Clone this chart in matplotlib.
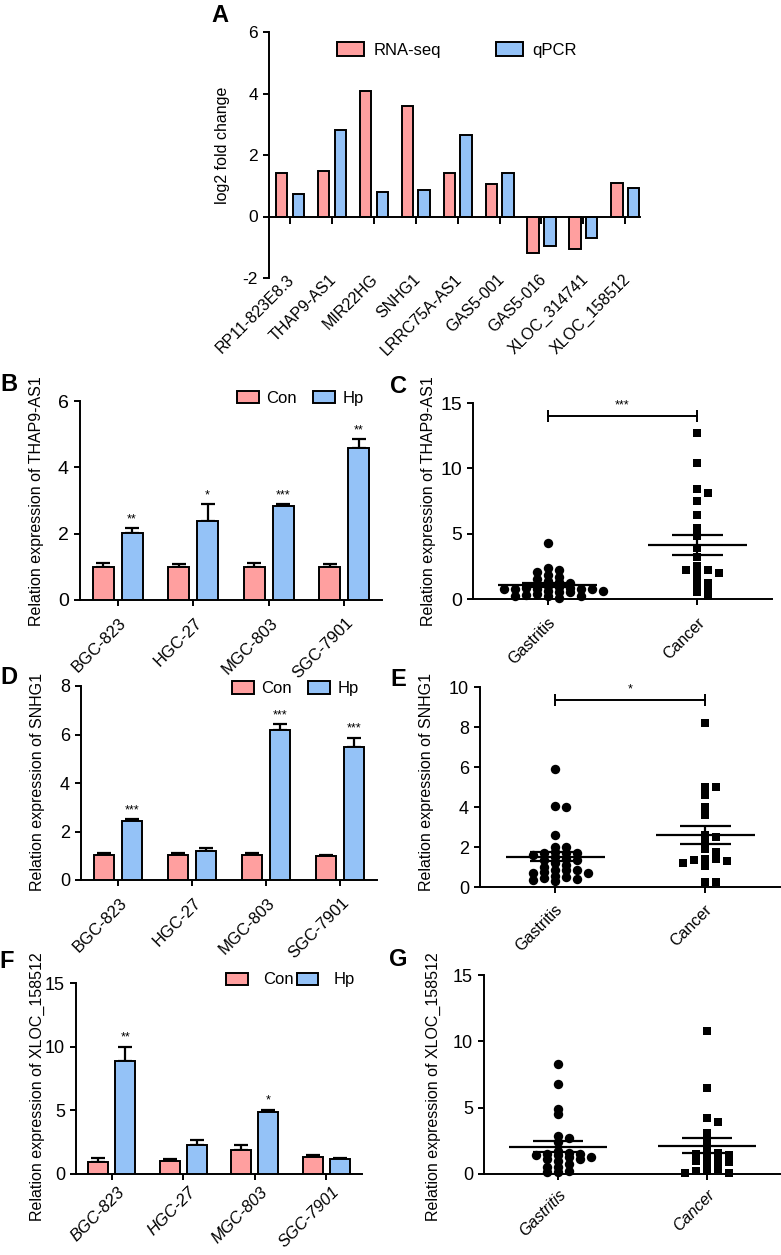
import numpy as np
import matplotlib.pyplot as plt
from matplotlib.transforms import ScaledTranslation

plt.rcParams['font.family'] = ['Liberation Sans', 'DejaVu Sans']
plt.rcParams['axes.unicode_minus'] = False

# ---- data ----
genes = ['RP11-823E8.3', 'THAP9-AS1', 'MIR22HG', 'SNHG1', 'LRRC75A-AS1',
         'GAS5-001', 'GAS5-016', 'XLOC_314741', 'XLOC_158512']
rnaseq = [1.40, 1.48, 4.07, 3.58, 1.43, 1.05, -1.19, -1.06, 1.10]
qpcr = [0.73, 2.80, 0.79, 0.86, 2.66, 1.40, -0.95, -0.69, 0.93]

cells = ['BGC-823', 'HGC-27', 'MGC-803', 'SGC-7901']
groups = ['Gastritis', 'Cancer']

b_con = [1.00, 1.00, 1.00, 0.98]
b_con_err = [0.11, 0.10, 0.11, 0.10]
b_hp = [2.03, 2.39, 2.82, 4.58]
b_hp_err = [0.13, 0.49, 0.07, 0.26]
b_sig = ['**', '*', '***', '**']

d_con = [1.02, 1.03, 1.03, 0.99]
d_con_err = [0.08, 0.09, 0.09, 0.06]
d_hp = [2.42, 1.18, 6.20, 5.47]
d_hp_err = [0.08, 0.16, 0.23, 0.40]
d_sig = ['***', '', '***', '***']

f_con = [0.92, 1.00, 1.92, 1.37]
f_con_err = [0.34, 0.18, 0.32, 0.16]
f_hp = [8.90, 2.24, 4.87, 1.18]
f_hp_err = [1.10, 0.44, 0.18, 0.08]
f_sig = ['**', '', '*', '']

c_gas = [4.3, 2.4, 2.2, 2.1, 1.8, 1.65, 1.5, 1.4, 1.3, 1.25, 1.1, 1.0, 0.9, 0.87, 0.87,
         0.8, 0.8, 0.75, 0.75, 0.75, 0.6, 0.6, 0.5, 0.5, 0.4, 0.3, 0.25, 0.25, 0.2, 0.1]
c_can = [12.7, 10.4, 8.4, 8.1, 7.5, 6.4, 5.4, 4.85, 3.9, 3.2, 2.5, 2.2, 2.2, 2.1, 2.0,
         1.55, 1.25, 1.1, 0.85, 0.5, 0.25]

e_gas = [5.9, 4.05, 4.0, 2.6, 2.0, 2.0, 1.75, 1.7, 1.7, 1.7, 1.6, 1.5, 1.4, 1.35, 1.35,
         1.2, 1.1, 1.0, 0.85, 0.85, 0.85, 0.77, 0.72, 0.7, 0.55, 0.52, 0.45, 0.4, 0.35, 0.3]
e_can = [8.2, 5.0, 5.0, 4.6, 4.0, 3.6, 2.6, 2.5, 2.25, 1.9, 1.75, 1.4, 1.35, 1.2, 1.05,
         1.3, 1.4, 0.25, 0.25]

g_gas = [8.3, 6.8, 4.9, 4.5, 2.9, 2.75, 2.4, 1.75, 1.6, 1.5, 1.5, 1.4, 1.4, 1.25, 1.25,
         1.1, 1.1, 1.0, 0.75, 0.5, 0.5, 0.25, 0.15, 0.12]
g_can = [10.8, 6.5, 4.2, 3.9, 3.1, 2.5, 1.75, 1.6, 1.5, 1.45, 1.1, 1.0, 0.95, 0.9, 0.55,
         0.4, 0.25, 0.2, 0.1, 0.1]

PINK = '#ff9f9f'
BLUE = '#94c2f7'
W, H = 781, 1255
fig = plt.figure(figsize=(W / 100, H / 100), dpi=100)


def box(l, t, r, b):
    return [l / W, 1 - b / H, (r - l) / W, (b - t) / H]


def ftext(x, y, s, **kw):
    fig.text(x / W, 1 - y / H, s, ha='center', va='center', **kw)


def shift_labels(labels, dx, dy):
    # nudge tick labels by (dx, dy) pixels, right / down
    off = ScaledTranslation(dx / 100, -dy / 100, fig.dpi_scale_trans)
    for lbl in labels:
        lbl.set_transform(lbl.get_transform() + off)


def style(ax, size):
    for s in ['top', 'right']:
        ax.spines[s].set_visible(False)
    for s in ['left', 'bottom']:
        ax.spines[s].set_linewidth(1.4)
    ax.tick_params(width=1.4, length=4.5, labelsize=size, direction='out')


def swarm(ax, vals, center, d=11.0, dv=4.5):
    T = ax.transData
    vals = np.asarray(vals, float)
    pts = T.transform(np.column_stack([np.full(len(vals), center), vals]))
    cx = pts[0, 0]
    xs = np.zeros(len(vals))
    placed = []
    for i in np.argsort(-vals):
        y = pts[i, 1]
        for step in range(60):
            x = cx + ((step + 1) // 2) * (1 if step % 2 else -1) * d
            if all(((x - px) / d) ** 2 + ((y - py) / dv) ** 2 >= 0.99 for px, py in placed):
                break
        placed.append((x, y))
        xs[i] = x
    return T.inverted().transform(np.column_stack([xs, pts[:, 1]]))[:, 0]


def grouped(ax, con, con_err, hp, hp_err, sig, ylim, yticks, ysize, italic=False,
            shift=(1, 4)):
    style(ax, ysize)
    x = np.arange(len(cells))
    ax.set_xlim(-0.5, len(cells) - 0.5)
    ax.set_ylim(*ylim)
    ax.set_yticks(yticks)
    zeros = np.zeros(len(x))
    ax.bar(x - 0.19, con, 0.28, color=PINK, edgecolor='k', lw=1.4, label='Con', zorder=3)
    ax.bar(x + 0.19, hp, 0.28, color=BLUE, edgecolor='k', lw=1.4, label='Hp', zorder=3)
    for xx, v, e in [(x - 0.19, con, con_err), (x + 0.19, hp, hp_err)]:
        ax.errorbar(xx, v, yerr=[zeros, e], fmt='none', ecolor='k', elinewidth=1.6,
                    capsize=4.8, capthick=1.6, zorder=2)
    for xi, top, s in zip(x + 0.19, np.add(hp, hp_err), sig):
        if s:
            ax.annotate(s, (xi, top), xytext=(0, 2), textcoords='offset points',
                        ha='center', va='bottom', fontsize=9)
    ax.set_xticks(x, cells, rotation=45, ha='right', rotation_mode='anchor',
                  fontsize=12, fontstyle='italic' if italic else 'normal')
    shift_labels(ax.get_xticklabels(), *shift)


def dotplot(ax, gas, can, ylim, yticks, ysize, italic=False, sig=None, sig_y=None, cap=0.4,
            shift=(0, 5)):
    style(ax, ysize)
    ax.set_xlim(-0.5, 1.5)
    ax.set_ylim(*ylim)
    ax.set_yticks(yticks)
    for i, (vals, m, s) in enumerate([(gas, 'o', 46), (can, 's', 40)]):
        xs = swarm(ax, vals, i)
        ax.scatter(xs, vals, marker=m, s=s, c='k', linewidths=0, zorder=3, clip_on=False)
        mean = np.mean(vals)
        sem = np.std(vals, ddof=1) / np.sqrt(len(vals))
        ax.hlines(mean, i - 0.33, i + 0.33, color='k', lw=1.6, zorder=4)
        ax.hlines([mean - sem, mean + sem], i - 0.17, i + 0.17, color='k', lw=1.6, zorder=4)
        ax.vlines(i, mean - sem, mean + sem, color='k', lw=1.6, zorder=4)
    if sig:
        ax.plot([0, 1], [sig_y, sig_y], color='k', lw=1.4, clip_on=False)
        ax.vlines([0, 1], sig_y - cap, sig_y + cap, color='k', lw=1.4, clip_on=False)
        ax.annotate(sig, (0.5, sig_y), xytext=(0, 3), textcoords='offset points',
                    ha='center', va='bottom', fontsize=9)
    ax.set_xticks([0, 1], groups, rotation=45, ha='right', rotation_mode='anchor',
                  fontsize=11.5, fontstyle='italic' if italic else 'normal')
    shift_labels(ax.get_xticklabels(), *shift)


LEG = dict(ncol=2, frameon=False, fontsize=12, borderpad=0, borderaxespad=0,
           loc='center left')

# ---- A ----
axA = fig.add_axes(box(269, 32, 640, 278))
style(axA, 12.5)
xa = np.arange(len(genes))
axA.bar(xa - 0.2, rnaseq, 0.27, color=PINK, edgecolor='k', lw=1.4, label='RNA-seq')
axA.bar(xa + 0.2, qpcr, 0.27, color=BLUE, edgecolor='k', lw=1.4, label='qPCR')
axA.set_xlim(-0.5, len(genes) - 0.65)
axA.set_ylim(-2, 6)
axA.set_yticks([-2, 0, 2, 4, 6])
axA.spines['bottom'].set_position(('data', 0))
axA.set_xticks(xa)
axA.tick_params(axis='x', labelbottom=False, length=5)
sec = axA.secondary_xaxis('bottom')
sec.set_xticks(xa, genes, rotation=45, ha='right', rotation_mode='anchor', fontsize=11.5)
sec.tick_params(length=0, pad=2)
sec.spines['bottom'].set_visible(False)
shift_labels(sec.get_xticklabels(), -3, -9)
axA.legend(bbox_to_anchor=(0.183, 0.927), handlelength=1.6, handleheight=0.85,
           handletextpad=0.6, columnspacing=3.3, **LEG)

# ---- B ----
axB = fig.add_axes(box(80, 401, 382, 600))
grouped(axB, b_con, b_con_err, b_hp, b_hp_err, b_sig, (0, 6), [0, 2, 4, 6], 14)
axB.legend(bbox_to_anchor=(0.52, 1.015), handlelength=1.3, handleheight=0.75,
           handletextpad=0.45, columnspacing=1.0, **LEG)

# ---- C ----
axC = fig.add_axes(box(473, 403, 772, 599))
dotplot(axC, c_gas, c_can, (0, 15), [0, 5, 10, 15], 14, sig='***', sig_y=14.0, cap=0.45)

# ---- D ----
axD = fig.add_axes(box(81, 686, 377, 880))
grouped(axD, d_con, d_con_err, d_hp, d_hp_err, d_sig, (0, 8), [0, 2, 4, 6, 8], 13)
axD.legend(bbox_to_anchor=(0.51, 0.985), handlelength=1.3, handleheight=0.75,
           handletextpad=0.45, columnspacing=1.0, **LEG)

# ---- E ----
axE = fig.add_axes(box(480, 687, 780, 887))
dotplot(axE, e_gas, e_can, (0, 10), [0, 2, 4, 6, 8, 10], 13, sig='*', sig_y=9.35, cap=0.3,
        shift=(-1, 4))

# ---- F ----
axF = fig.add_axes(box(76, 983, 362, 1174))
grouped(axF, f_con, f_con_err, f_hp, f_hp_err, f_sig, (0, 15), [0, 5, 10, 15], 13,
        italic=True, shift=(5, -1))
axF.legend(bbox_to_anchor=(0.525, 1.016), handlelength=1.3, handleheight=0.75,
           handletextpad=0.9, columnspacing=0.2, **LEG)

# ---- G ----
axG = fig.add_axes(box(484, 975, 781, 1174))
dotplot(axG, g_gas, g_can, (0, 15), [0, 5, 10, 15], 13, italic=True, shift=(0, 2))

# ---- labels ----
for lab, x, y in [('A', 220, 16), ('B', 9, 385), ('C', 398, 386), ('D', 9, 678),
                  ('E', 398, 679), ('F', 7, 961), ('G', 398, 960)]:
    ftext(x, y, lab, fontsize=17, fontweight='bold')

ftext(223, 145, 'log2 fold change', rotation=90, fontsize=11.5)
ftext(37, 501, 'Relation expression of THAP9-AS1', rotation=90, fontsize=11.5)
ftext(428, 501, 'Relation expression of THAP9-AS1', rotation=90, fontsize=11.5)
ftext(38, 782, 'Relation expression of SNHG1', rotation=90, fontsize=11.5)
ftext(427, 782, 'Relation expression of SNHG1', rotation=90, fontsize=11.5)
ftext(37, 1087, 'Relation expression of XLOC_158512', rotation=90, fontsize=11.5)
ftext(433, 1087, 'Relation expression of XLOC_158512', rotation=90, fontsize=11.5)

fig.savefig('out.png', dpi=100)
